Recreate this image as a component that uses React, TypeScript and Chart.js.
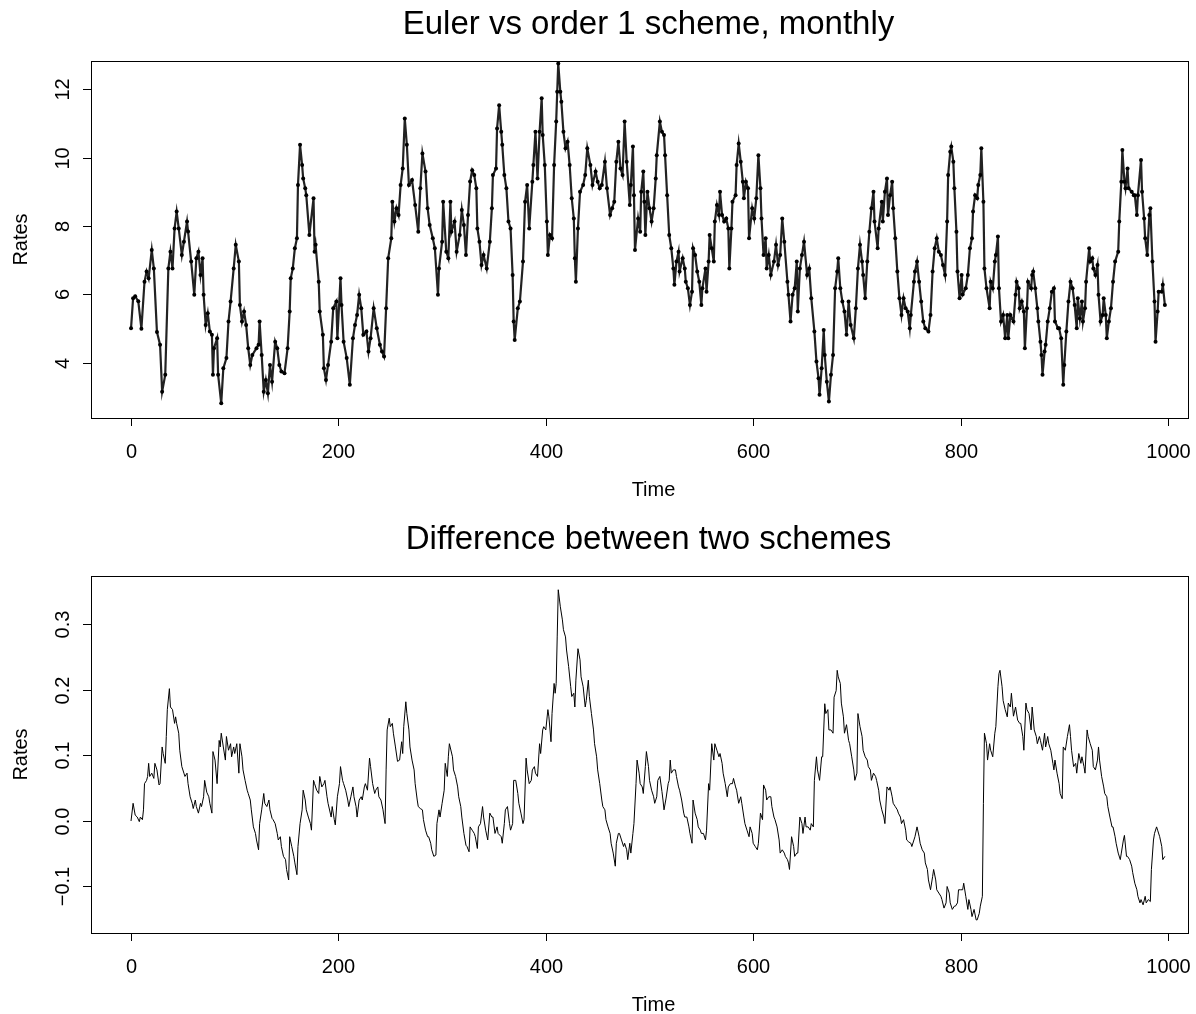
import React, { useEffect, useRef } from "react";
import { Chart, registerables } from "chart.js";

Chart.register(...registerables);

// ---- Data ----
const eulerTime = [
  0, 2, 4, 7, 10, 13, 15, 17, 20, 22, 25, 28, 30, 33, 36, 38, 40, 42, 44, 46, 49, 51, 54, 55, 58, 61, 63, 65, 67, 69,
  70, 72, 74, 76, 78, 79, 80, 83, 84, 87, 89, 92, 94, 96, 99, 101, 104, 105, 107, 109, 111, 113, 115, 117, 121, 123, 124, 126, 128, 130,
  132, 134, 136, 139, 141, 143, 145, 148, 151, 153, 154, 156, 158, 160, 161, 163, 165, 166, 168, 169, 172, 176, 177, 178, 181, 182, 185, 186, 188, 190,
  193, 195, 198, 199, 202, 203, 205, 208, 211, 214, 216, 218, 220, 222, 224, 227, 229, 231, 234, 237, 240, 242, 244, 246, 248, 251, 252, 254, 256, 258,
  260, 262, 264, 266, 268, 271, 274, 277, 279, 281, 284, 286, 288, 291, 293, 296, 297, 300, 301, 304, 306, 308, 309, 312, 314, 317, 319, 321, 323, 325,
  327, 329, 331, 333, 334, 336, 338, 340, 343, 346, 348, 349, 352, 353, 355, 357, 358, 360, 362, 364, 366, 368, 369, 370, 373, 375, 378, 380, 382, 384,
  387, 388, 390, 392, 394, 396, 397, 399, 401, 402, 404, 406, 408, 410, 411, 412, 414, 415, 417, 419, 421, 423, 425, 427, 428, 429, 431, 433, 436, 438,
  440, 443, 445, 448, 450, 452, 454, 457, 459, 462, 464, 466, 468, 470, 472, 474, 476, 478, 481, 482, 484, 485, 486, 489, 491, 492, 494, 495, 496, 498,
  500, 502, 504, 506, 507, 510, 512, 514, 515, 517, 519, 521, 523, 524, 526, 528, 529, 532, 534, 535, 537, 539, 541, 542, 544, 546, 548, 550, 551, 554,
  555, 557, 558, 560, 562, 563, 565, 567, 568, 570, 572, 574, 576, 577, 579, 580, 583, 584, 586, 588, 590, 591, 593, 595, 596, 599, 601, 603, 605, 607,
  608, 610, 612, 613, 615, 617, 620, 622, 624, 626, 628, 630, 633, 634, 636, 638, 640, 642, 643, 645, 647, 649, 652, 654, 656, 659, 661, 663, 664, 666,
  668, 669, 671, 673, 675, 677, 679, 681, 682, 684, 686, 688, 690, 692, 694, 697, 699, 701, 703, 705, 706, 708, 710, 712, 714, 716, 717, 720, 721, 724,
  725, 727, 729, 730, 732, 734, 735, 737, 739, 741, 743, 745, 747, 749, 751, 752, 755, 756, 758, 760, 762, 764, 766, 769, 771, 773, 775, 777, 779, 781,
  783, 785, 787, 788, 790, 791, 793, 794, 796, 797, 799, 801, 802, 805, 807, 809, 811, 812, 814, 816, 817, 819, 820, 822, 823, 825, 828, 829, 831, 833,
  834, 836, 837, 839, 841, 843, 845, 846, 848, 851, 853, 854, 856, 857, 859, 861, 862, 864, 865, 868, 869, 870, 872, 874, 875, 877, 878, 879, 881, 882,
  884, 886, 888, 890, 891, 894, 895, 897, 899, 900, 902, 904, 906, 908, 910, 912, 913, 915, 917, 918, 920, 921, 924, 925, 927, 928, 930, 932, 933, 935,
  937, 938, 940, 941, 943, 945, 947, 949, 952, 953, 955, 956, 958, 959, 961, 962, 965, 967, 968, 970, 971, 974, 975, 977, 978, 980, 982, 983, 985, 987,
  988, 990, 991, 994, 995, 997,
];
const eulerRates = [
  5.01, 5.89, 5.95, 5.8, 5.0, 6.37, 6.67, 6.47, 7.3, 6.76, 4.9, 4.53, 3.16, 3.65, 6.76, 7.25, 6.76, 7.93, 8.42, 7.93, 7.15, 7.54, 8.13, 7.84, 6.96, 5.99, 7.06, 7.25, 6.57, 7.06,
  5.99, 5.11, 5.45, 4.92, 4.82, 3.65, 4.43, 4.72, 3.65, 2.82, 3.84, 4.14, 5.21, 5.79, 6.76, 7.45, 6.96, 5.69, 5.21, 5.5, 5.11, 4.43, 3.94, 4.23, 4.43, 4.53, 5.21, 4.23, 3.16, 3.5,
  3.11, 3.94, 3.45, 4.62, 4.43, 3.94, 3.75, 3.7, 4.43, 5.5, 6.47, 6.76, 7.35, 7.64, 9.2, 10.37, 9.78, 9.39, 9.1, 8.9, 7.74, 8.81, 7.25, 7.45, 6.37, 5.5, 4.82, 3.84, 3.5, 3.94,
  4.62, 5.6, 5.79, 4.72, 6.47, 5.69, 4.62, 4.14, 3.36, 4.72, 5.11, 5.4, 5.99, 5.6, 4.82, 4.92, 4.33, 4.72, 5.6, 5.01, 4.53, 4.33, 4.19, 5.6, 7.06, 7.64, 8.71, 8.13, 8.52, 8.32,
  9.2, 9.68, 11.14, 10.37, 9.2, 9.34, 8.61, 7.83, 9.1, 10.12, 9.59, 8.52, 8.03, 7.64, 7.35, 5.99, 6.76, 7.54, 8.71, 7.25, 7.06, 8.71, 7.83, 8.13, 7.25, 7.74, 8.47, 8.03, 7.15, 8.32,
  9.3, 9.63, 9.49, 9.1, 7.93, 7.54, 6.86, 7.15, 6.76, 7.54, 8.52, 9.49, 9.68, 10.85, 11.53, 10.75, 10.37, 9.49, 9.1, 8.13, 7.93, 6.57, 5.21, 4.67, 5.6, 5.79, 6.96, 8.71, 9.2, 7.93,
  9.29, 9.78, 10.75, 9.39, 10.75, 11.73, 10.66, 9.78, 8.13, 7.15, 7.74, 7.64, 9.78, 11.05, 11.92, 12.75, 11.92, 11.63, 10.75, 10.27, 10.46, 9.78, 8.81, 8.22, 7.06, 6.37, 7.93, 9.0, 9.2, 9.49,
  10.27, 9.78, 9.2, 9.59, 9.29, 9.1, 9.2, 9.88, 9.1, 8.32, 8.52, 8.71, 9.88, 10.46, 9.68, 9.49, 11.05, 9.88, 8.61, 9.2, 10.32, 8.9, 7.3, 8.22, 7.83, 9.0, 9.59, 8.71, 7.74, 9.0,
  8.52, 8.13, 8.52, 9.39, 10.07, 11.05, 10.75, 10.66, 10.07, 8.9, 7.74, 7.35, 6.76, 6.28, 6.96, 7.25, 6.67, 7.06, 6.76, 6.37, 6.18, 5.69, 6.08, 7.35, 7.15, 6.67, 6.37, 5.69, 6.18, 6.76,
  6.08, 6.96, 7.74, 7.35, 6.96, 8.13, 8.61, 8.32, 9.0, 8.32, 8.13, 8.22, 7.93, 6.76, 7.93, 8.71, 8.9, 9.78, 10.41, 9.88, 9.29, 8.81, 9.29, 9.1, 7.64, 8.52, 8.22, 8.81, 10.07, 9.1,
  8.22, 7.15, 7.64, 6.76, 7.15, 6.57, 6.96, 7.45, 6.86, 7.15, 8.22, 7.54, 6.37, 5.99, 5.21, 5.99, 6.18, 6.96, 5.5, 6.76, 7.15, 7.54, 6.57, 6.76, 5.89, 4.92, 4.04, 3.55, 3.07, 3.84,
  4.96, 4.23, 3.45, 2.87, 3.65, 4.23, 6.18, 6.67, 7.06, 6.18, 5.79, 5.5, 4.82, 5.79, 5.11, 4.72, 5.6, 6.76, 7.45, 6.96, 6.57, 5.89, 6.96, 7.83, 8.52, 9.0, 8.13, 7.35, 7.93, 8.71,
  8.13, 9.0, 9.39, 8.32, 8.9, 9.29, 8.52, 7.64, 6.67, 5.89, 5.4, 5.89, 5.6, 5.5, 5.01, 5.4, 6.37, 6.67, 6.96, 6.37, 5.79, 5.21, 5.01, 4.92, 5.4, 6.67, 7.35, 7.64, 7.25, 7.15,
  6.86, 6.57, 8.13, 9.49, 10.17, 10.32, 9.88, 9.1, 7.83, 6.67, 5.89, 6.57, 6.0, 6.18, 6.57, 7.35, 7.64, 8.42, 8.9, 8.81, 9.2, 9.49, 10.27, 8.71, 6.76, 6.18, 5.6, 6.37, 6.18, 6.96,
  7.15, 7.69, 6.18, 5.21, 5.4, 4.72, 5.4, 4.72, 5.4, 5.21, 5.99, 6.37, 6.18, 5.6, 5.79, 5.5, 4.43, 5.6, 6.37, 6.18, 6.57, 6.67, 6.18, 5.6, 5.21, 4.62, 4.23, 3.65, 4.33, 4.53,
  5.21, 5.6, 6.08, 6.18, 5.21, 5.01, 5.01, 4.72, 3.36, 3.94, 4.92, 5.79, 6.37, 6.18, 5.69, 5.01, 5.89, 5.3, 5.79, 5.21, 5.6, 6.37, 7.35, 6.96, 7.06, 6.76, 6.57, 6.86, 5.99, 5.21,
  5.4, 5.89, 5.4, 4.72, 5.21, 5.6, 6.37, 6.96, 7.25, 8.13, 9.29, 10.22, 9.29, 9.1, 9.68, 9.1, 9.0, 8.9, 8.9, 8.32, 8.9, 9.93, 9.0, 8.22, 7.64, 7.15, 8.32, 8.52, 6.96, 5.79,
  4.62, 5.5, 6.08, 6.08, 6.28, 5.69,
];

const diffTime = [
  0, 2, 4, 6, 8, 9, 11, 12, 13, 15, 16, 17, 18, 20, 22, 23, 25, 27, 28, 30, 31, 33, 34, 35, 37, 38, 40, 42, 43, 44,
  46, 47, 49, 51, 52, 54, 55, 57, 59, 60, 62, 63, 65, 67, 68, 70, 71, 73, 75, 76, 78, 79, 81, 83, 85, 86, 87, 89, 91, 92,
  94, 96, 97, 99, 100, 102, 104, 105, 107, 108, 110, 112, 113, 115, 116, 118, 120, 121, 123, 124, 126, 128, 129, 131, 133, 134, 136, 137, 139, 141,
  142, 144, 145, 147, 149, 150, 152, 153, 155, 157, 158, 160, 161, 163, 165, 166, 168, 169, 171, 173, 174, 176, 177, 179, 181, 182, 184, 186, 187, 189,
  190, 193, 194, 196, 197, 199, 201, 202, 204, 205, 207, 209, 210, 212, 214, 215, 217, 218, 220, 222, 223, 225, 226, 228, 230, 231, 233, 235, 236, 238,
  239, 241, 243, 244, 245, 246, 247, 249, 250, 252, 253, 255, 257, 259, 261, 262, 263, 265, 266, 268, 269, 271, 273, 274, 276, 277, 279, 281, 282, 284,
  286, 287, 289, 290, 292, 294, 295, 297, 298, 300, 302, 303, 305, 306, 307, 310, 311, 313, 315, 316, 318, 319, 321, 323, 324, 326, 327, 329, 331, 332,
  334, 335, 337, 339, 340, 342, 344, 346, 348, 349, 351, 353, 354, 357, 358, 360, 361, 363, 365, 366, 368, 369, 371, 373, 374, 376, 378, 379, 381, 382,
  384, 386, 387, 389, 390, 392, 394, 395, 397, 398, 400, 402, 403, 405, 406, 408, 409, 410, 411, 412, 414, 416, 417, 419, 420, 422, 424, 425, 427, 428,
  429, 431, 433, 434, 436, 438, 439, 441, 442, 444, 446, 447, 449, 450, 452, 454, 455, 457, 458, 460, 462, 463, 465, 467, 468, 470, 471, 473, 475, 476,
  478, 479, 481, 482, 484, 485, 487, 488, 490, 491, 493, 494, 496, 497, 499, 500, 502, 504, 505, 507, 508, 510, 512, 513, 514, 516, 518, 519, 520, 521,
  523, 525, 526, 528, 529, 531, 533, 534, 536, 538, 539, 541, 542, 544, 546, 547, 549, 550, 552, 554, 555, 557, 558, 560, 562, 563, 565, 567, 568, 570,
  571, 573, 575, 576, 578, 580, 581, 583, 584, 586, 588, 589, 591, 592, 594, 596, 597, 599, 600, 602, 604, 605, 607, 609, 610, 612, 613, 615, 617, 618,
  620, 621, 623, 625, 626, 628, 630, 631, 633, 634, 635, 637, 639, 640, 642, 643, 645, 647, 648, 650, 651, 653, 655, 656, 658, 659, 661, 662, 664, 666,
  667, 669, 670, 672, 673, 675, 677, 678, 680, 681, 682, 684, 685, 687, 688, 690, 692, 693, 695, 697, 698, 700, 701, 703, 705, 706, 708, 710, 711, 713,
  714, 716, 718, 719, 721, 722, 724, 726, 727, 729, 731, 732, 734, 735, 737, 739, 740, 742, 743, 745, 747, 748, 750, 752, 753, 755, 756, 758, 760, 761,
  763, 765, 766, 768, 769, 771, 773, 774, 776, 777, 779, 781, 782, 784, 786, 787, 789, 790, 792, 794, 795, 797, 798, 800, 802, 803, 805, 807, 808, 810,
  811, 813, 815, 816, 818, 819, 821, 822, 823, 825, 826, 828, 829, 831, 833, 834, 836, 837, 838, 840, 841, 843, 845, 846, 848, 849, 851, 853, 855, 857,
  858, 860, 861, 863, 864, 866, 868, 869, 871, 873, 874, 876, 877, 879, 881, 882, 884, 885, 887, 889, 890, 891, 893, 895, 896, 898, 899, 901, 903, 905,
  906, 907, 909, 911, 912, 914, 916, 917, 919, 920, 922, 923, 925, 927, 928, 930, 932, 933, 934, 936, 938, 939, 941, 942, 944, 946, 947, 949, 950, 952,
  954, 955, 957, 958, 960, 961, 963, 965, 966, 968, 970, 971, 973, 974, 976, 978, 979, 981, 983, 984, 986, 987, 989, 990, 992, 994, 995, 997,
];
const diffRates = [
  0.0, 0.027, 0.009, 0.006, -0.001, 0.006, 0.002, 0.017, 0.057, 0.062, 0.068, 0.088, 0.068, 0.073, 0.065, 0.088, 0.078, 0.055, 0.057, 0.113, 0.103, 0.088, 0.129, 0.17, 0.202, 0.174, 0.17, 0.149, 0.159, 0.149,
  0.134, 0.108, 0.083, 0.073, 0.068, 0.073, 0.057, 0.037, 0.027, 0.019, 0.032, 0.022, 0.012, 0.027, 0.022, 0.037, 0.062, 0.044, 0.037, 0.027, 0.012, 0.106, 0.093, 0.057, 0.123, 0.113, 0.134, 0.113, 0.093, 0.129,
  0.108, 0.118, 0.098, 0.113, 0.103, 0.118, 0.073, 0.118, 0.098, 0.078, 0.062, 0.047, 0.042, 0.032, 0.017, -0.009, -0.019, -0.029, -0.044, -0.004, 0.017, 0.042, 0.027, 0.022, 0.032, 0.017, 0.004, 0.002, -0.004, -0.019,
  -0.029, -0.024, -0.039, -0.054, -0.059, -0.074, -0.09, -0.024, -0.039, -0.054, -0.064, -0.082, -0.039, -0.004, 0.017, 0.047, 0.032, 0.017, 0.006, -0.004, -0.014, 0.062, 0.057, 0.047, 0.042, 0.068, 0.052, 0.057, 0.062, 0.037,
  0.027, 0.006, 0.022, 0.002, -0.006, 0.037, 0.057, 0.083, 0.062, 0.057, 0.047, 0.032, 0.022, 0.037, 0.052, 0.037, 0.022, 0.006, 0.032, 0.037, 0.032, 0.052, 0.057, 0.047, 0.096, 0.083, 0.057, 0.042, 0.047, 0.052,
  0.037, 0.032, 0.017, 0.006, -0.004, 0.078, 0.139, 0.157, 0.144, 0.149, 0.134, 0.113, 0.091, 0.093, 0.121, 0.103, 0.144, 0.182, 0.164, 0.139, 0.113, 0.093, 0.078, 0.057, 0.032, 0.022, 0.019, 0.017, 0.002, -0.014,
  -0.024, -0.024, -0.034, -0.044, -0.054, -0.052, -0.004, 0.017, 0.006, 0.027, 0.047, 0.088, 0.068, 0.098, 0.118, 0.098, 0.078, 0.068, 0.052, 0.037, 0.022, 0.006, -0.019, -0.037, -0.039, -0.047, -0.009, -0.014, -0.019, -0.024,
  -0.042, -0.009, -0.004, 0.022, 0.006, -0.014, -0.029, 0.012, 0.006, 0.006, -0.019, -0.009, -0.019, -0.024, -0.034, -0.004, 0.017, 0.022, -0.004, -0.014, -0.004, 0.062, 0.062, 0.042, 0.027, 0.012, -0.004, 0.002, 0.096, 0.078,
  0.057, 0.062, 0.078, 0.083, 0.073, 0.068, 0.118, 0.103, 0.139, 0.144, 0.139, 0.17, 0.159, 0.121, 0.164, 0.21, 0.195, 0.21, 0.281, 0.353, 0.327, 0.307, 0.292, 0.281, 0.261, 0.236, 0.205, 0.19, 0.195, 0.174,
  0.215, 0.263, 0.246, 0.22, 0.205, 0.174, 0.184, 0.215, 0.19, 0.164, 0.139, 0.118, 0.098, 0.078, 0.057, 0.032, 0.022, 0.017, 0.002, -0.009, -0.019, -0.034, -0.049, -0.069, -0.034, -0.019, -0.019, -0.029, -0.039, -0.034,
  -0.044, -0.059, -0.034, -0.049, -0.019, -0.004, 0.057, 0.093, 0.073, 0.057, 0.052, 0.042, 0.083, 0.106, 0.083, 0.062, 0.047, 0.037, 0.027, 0.037, 0.062, 0.068, 0.045, 0.032, 0.017, 0.035, 0.057, 0.062, 0.093, 0.073,
  0.078, 0.078, 0.068, 0.052, 0.047, 0.032, 0.012, 0.006, 0.006, -0.009, -0.019, -0.034, 0.032, 0.012, 0.002, -0.009, -0.014, -0.019, -0.019, -0.029, -0.014, 0.057, 0.047, 0.118, 0.093, 0.118, 0.108, 0.098, 0.103, 0.088,
  0.073, 0.057, 0.037, 0.052, 0.057, 0.057, 0.065, 0.052, 0.047, 0.027, 0.037, 0.027, 0.006, -0.004, -0.014, -0.024, -0.009, -0.019, -0.034, -0.039, -0.044, -0.034, 0.012, 0.002, 0.055, 0.047, 0.032, 0.037, 0.037, 0.022,
  0.006, 0.002, -0.009, -0.029, -0.049, -0.044, -0.049, -0.054, -0.059, -0.064, -0.074, -0.024, -0.039, -0.054, -0.049, -0.049, 0.006, -0.004, -0.019, 0.006, -0.009, -0.009, -0.014, -0.004, -0.009, 0.062, 0.098, 0.078, 0.062, 0.098,
  0.098, 0.179, 0.164, 0.17, 0.139, 0.139, 0.134, 0.189, 0.199, 0.23, 0.22, 0.21, 0.18, 0.159, 0.134, 0.147, 0.123, 0.118, 0.098, 0.078, 0.062, 0.073, 0.164, 0.144, 0.129, 0.108, 0.098, 0.093, 0.083, 0.078,
  0.062, 0.073, 0.068, 0.062, 0.047, 0.032, 0.017, 0.006, -0.004, 0.052, 0.047, 0.052, 0.037, 0.027, 0.022, 0.017, 0.012, 0.006, -0.004, 0.002, -0.014, -0.029, -0.032, -0.034, -0.039, -0.029, -0.024, -0.009, -0.024, -0.034,
  -0.044, -0.049, -0.064, -0.074, -0.09, -0.105, -0.085, -0.074, -0.09, -0.105, -0.11, -0.115, -0.12, -0.133, -0.125, -0.1, -0.11, -0.125, -0.135, -0.13, -0.13, -0.125, -0.105, -0.105, -0.105, -0.095, -0.115, -0.135, -0.12, -0.135,
  -0.146, -0.135, -0.151, -0.151, -0.141, -0.13, -0.115, 0.027, 0.134, 0.118, 0.093, 0.118, 0.108, 0.098, 0.134, 0.144, 0.205, 0.225, 0.23, 0.205, 0.184, 0.17, 0.159, 0.18, 0.174, 0.195, 0.16, 0.174, 0.154, 0.149,
  0.149, 0.129, 0.108, 0.18, 0.17, 0.164, 0.139, 0.174, 0.139, 0.129, 0.118, 0.129, 0.123, 0.108, 0.134, 0.113, 0.129, 0.118, 0.108, 0.088, 0.078, 0.093, 0.073, 0.057, 0.042, 0.034, 0.113, 0.108, 0.129, 0.147,
  0.129, 0.108, 0.083, 0.088, 0.073, 0.103, 0.088, 0.098, 0.083, 0.073, 0.139, 0.129, 0.118, 0.108, 0.083, 0.078, 0.093, 0.113, 0.093, 0.068, 0.052, 0.042, 0.037, 0.022, 0.006, -0.009, -0.009, -0.024, -0.034, -0.049,
  -0.059, -0.049, -0.029, -0.022, -0.054, -0.054, -0.059, -0.069, -0.079, -0.095, -0.105, -0.115, -0.125, -0.12, -0.128, -0.115, -0.125, -0.12, -0.123, -0.074, -0.029, -0.019, -0.009, -0.014, -0.024, -0.039, -0.059, -0.054,
];

const xTicks = [0, 200, 400, 600, 800, 1000];
const xTickLabels = ["0", "200", "400", "600", "800", "1000"];
const topYTicks = [4, 6, 8, 10, 12];
const topYLabels = ["4", "6", "8", "10", "12"];
const bottomYTicks = [-0.1, 0.0, 0.1, 0.2, 0.3];
const bottomYLabels = ["\u22120.1", "0.0", "0.1", "0.2", "0.3"];

const FONT = '"Liberation Sans", Arial, Helvetica, sans-serif';
const X_MIN = -38.6;
const X_MAX = 1019.3;

function makeAxesPlugin(title: string, yTicks: number[], yLabels: string[]) {
  return {
    id: "rAxes",
    afterDraw(chart: any) {
      const ctx = chart.ctx as CanvasRenderingContext2D;
      const a = chart.chartArea;
      const xs = chart.scales.x;
      const ys = chart.scales.y;
      ctx.save();
      ctx.strokeStyle = "#000";
      ctx.fillStyle = "#000";
      ctx.lineWidth = 1;
      // box
      ctx.strokeRect(Math.round(a.left) + 0.5, Math.round(a.top) + 0.5, Math.round(a.right - a.left), Math.round(a.bottom - a.top));
      // x ticks
      ctx.font = `20px ${FONT}`;
      ctx.textAlign = "center";
      ctx.textBaseline = "alphabetic";
      xTicks.forEach((v, i) => {
        const px = Math.round(xs.getPixelForValue(v)) + 0.5;
        ctx.beginPath();
        ctx.moveTo(px, a.bottom);
        ctx.lineTo(px, a.bottom + 8);
        ctx.stroke();
        ctx.fillText(xTickLabels[i], px, a.bottom + 40);
      });
      // x title
      ctx.textBaseline = "middle";
      ctx.fillText("Time", (a.left + a.right) / 2 + 14, a.bottom + 72);
      // y ticks
      yTicks.forEach((v, i) => {
        const py = Math.round(ys.getPixelForValue(v)) + 0.5;
        ctx.beginPath();
        ctx.moveTo(a.left, py);
        ctx.lineTo(a.left - 8, py);
        ctx.stroke();
        ctx.save();
        ctx.translate(a.left - 22, py);
        ctx.rotate(-Math.PI / 2);
        ctx.textAlign = "center";
        ctx.textBaseline = "alphabetic";
        ctx.fillText(yLabels[i], 0, 0);
        ctx.restore();
      });
      // y title
      ctx.save();
      ctx.translate(27, (a.top + a.bottom) / 2);
      ctx.rotate(-Math.PI / 2);
      ctx.textAlign = "center";
      ctx.textBaseline = "alphabetic";
      ctx.fillText("Rates", 0, 0);
      ctx.restore();
      // main title
      ctx.font = `33px ${FONT}`;
      ctx.textAlign = "center";
      ctx.textBaseline = "alphabetic";
      ctx.fillText(title, (a.left + a.right) / 2 + 9, a.top - 27);
      ctx.restore();
    },
  };
}

type PanelProps = {
  title: string;
  times: number[];
  values: number[];
  yTicks: number[];
  yLabels: string[];
  yMin: number;
  yMax: number;
  padTop: number;
  padBottom: number;
  withPoints: boolean;
};

function Panel(p: PanelProps) {
  const ref = useRef<HTMLCanvasElement | null>(null);
  useEffect(() => {
    if (!ref.current) return;
    const chart = new Chart(ref.current, {
      type: "line",
      data: {
        datasets: [
          {
            data: p.times.map((t, i) => ({ x: t, y: p.values[i] })),
            borderColor: p.withPoints ? "#222" : "#000",
            borderWidth: p.withPoints ? 2.2 : 1,
            pointRadius: p.withPoints ? 2 : 0,
            pointBackgroundColor: "#000",
            pointBorderWidth: 0,
            tension: 0,
            fill: false,
          },
        ],
      },
      options: {
        responsive: false,
        animation: false,
        devicePixelRatio: 1,
        events: [],
        layout: { padding: { left: 91, right: 8, top: p.padTop, bottom: p.padBottom } },
        plugins: { legend: { display: false }, tooltip: { enabled: false }, title: { display: false } },
        scales: {
          x: { type: "linear", display: false, min: X_MIN, max: X_MAX },
          y: { type: "linear", display: false, min: p.yMin, max: p.yMax },
        },
      },
      plugins: [makeAxesPlugin(p.title, p.yTicks, p.yLabels)],
    } as any);
    return () => chart.destroy();
  }, []);
  return <canvas ref={ref} width={1196} height={507} style={{ display: "block", width: 1196, height: 507 }} />;
}

export default function App() {
  return (
    <div style={{ position: "absolute", left: 0, top: 0, width: 1196, height: 1014, background: "#fff" }}>
      <Panel
        title="Euler vs order 1 scheme, monthly"
        times={eulerTime}
        values={eulerRates}
        yTicks={topYTicks}
        yLabels={topYLabels}
        yMin={2.39}
        yMax={12.82}
        padTop={61}
        padBottom={89}
        withPoints={true}
      />
      <Panel
        title="Difference between two schemes"
        times={diffTime}
        values={diffRates}
        yTicks={bottomYTicks}
        yLabels={bottomYLabels}
        yMin={-0.171}
        yMax={0.374}
        padTop={69}
        padBottom={81}
        withPoints={false}
      />
    </div>
  );
}
